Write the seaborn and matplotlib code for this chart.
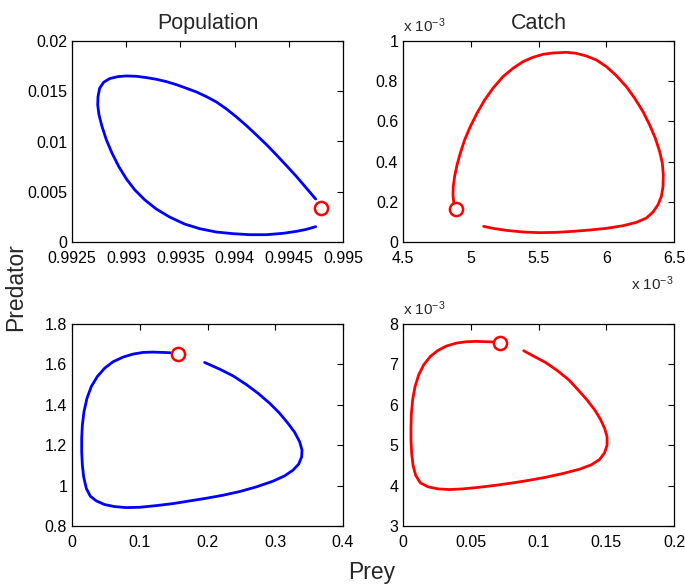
import numpy as np
import pandas as pd
import matplotlib
matplotlib.use("Agg")
import matplotlib.pyplot as plt
from matplotlib.ticker import FuncFormatter, FixedLocator
import seaborn as sns

# ---- Population, top panel (prey vs predator) ----
pop_top_prey = [0.994748, 0.994662, 0.994570, 0.994477, 0.994385, 0.994293, 0.994200,
                0.994108, 0.994016, 0.993924, 0.993831, 0.993739, 0.993647, 0.993555,
                0.993462, 0.993370, 0.993278, 0.993186, 0.993094, 0.993001, 0.992924,
                0.992847, 0.992792, 0.992755, 0.992740, 0.992737, 0.992749, 0.992777,
                0.992817, 0.992869, 0.992931, 0.993001, 0.993078, 0.993170, 0.993278,
                0.993401, 0.993539, 0.993678, 0.993831, 0.993985, 0.994139, 0.994293,
                0.994446, 0.994570, 0.994662, 0.994748]
pop_top_pred = [0.004272, 0.005364, 0.006523, 0.007616, 0.008676, 0.009702, 0.010662,
                0.011590, 0.012450, 0.013245, 0.013941, 0.014470, 0.014934, 0.015298,
                0.015662, 0.015960, 0.016192, 0.016358, 0.016490, 0.016523, 0.016457,
                0.016258, 0.015894, 0.015298, 0.014470, 0.013643, 0.012649, 0.011490,
                0.010166, 0.008841, 0.007517, 0.006291, 0.005199, 0.004205, 0.003278,
                0.002483, 0.001788, 0.001325, 0.000993, 0.000828, 0.000728, 0.000728,
                0.000861, 0.001060, 0.001258, 0.001523]
pop_top_start = (0.994794, 0.003378)

# ---- Catch, top panel (values in units of 1e-3) ----
catch_top_prey_e3 = [4.874, 4.869, 4.871, 4.881, 4.899, 4.923, 4.955, 4.997, 5.046, 5.103,
                     5.164, 5.238, 5.312, 5.386, 5.459, 5.533, 5.607, 5.705, 5.779, 5.853,
                     5.927, 6.001, 6.074, 6.148, 6.210, 6.271, 6.320, 6.362, 6.394, 6.414,
                     6.421, 6.419, 6.407, 6.382, 6.345, 6.296, 6.222, 6.124, 6.001, 5.878,
                     5.755, 5.632, 5.509, 5.386, 5.263, 5.164, 5.095]
catch_top_pred_e3 = [0.1987, 0.2351, 0.2765, 0.3262, 0.3841, 0.4421, 0.5083, 0.5745, 0.6407,
                     0.7070, 0.7649, 0.8228, 0.8642, 0.8974, 0.9189, 0.9338, 0.9404, 0.9437,
                     0.9387, 0.9255, 0.9056, 0.8725, 0.8278, 0.7732, 0.7152, 0.6490, 0.5828,
                     0.5166, 0.4503, 0.3924, 0.3344, 0.2765, 0.2268, 0.1854, 0.1490, 0.1192,
                     0.0977, 0.0811, 0.0679, 0.0596, 0.0530, 0.0480, 0.0464, 0.0497, 0.0579,
                     0.0679, 0.0778]
catch_top_start_e3 = (4.894, 0.1656)

# ---- Population, bottom panel ----
pop_bot_prey = [0.1451, 0.1343, 0.1196, 0.1048, 0.0900, 0.0753, 0.0605, 0.0482, 0.0374,
                0.0285, 0.0221, 0.0177, 0.0153, 0.0143, 0.0143, 0.0153, 0.0172, 0.0212,
                0.0271, 0.0359, 0.0482, 0.0630, 0.0802, 0.0999, 0.1245, 0.1491, 0.1737,
                0.1983, 0.2229, 0.2475, 0.2721, 0.2967, 0.3139, 0.3262, 0.3346, 0.3390,
                0.3395, 0.3360, 0.3287, 0.3188, 0.3065, 0.2918, 0.2745, 0.2573, 0.2376,
                0.2180, 0.1958]
pop_bot_pred = [1.6576, 1.6593, 1.6609, 1.6593, 1.6510, 1.6361, 1.6129, 1.5814, 1.5401,
                1.4904, 1.4324, 1.3662, 1.3000, 1.2338, 1.1675, 1.1013, 1.0434, 0.9854,
                0.9473, 0.9242, 0.9060, 0.8960, 0.8911, 0.8927, 0.9010, 0.9109, 0.9242,
                0.9374, 0.9523, 0.9705, 0.9937, 1.0219, 1.0483, 1.0765, 1.1063, 1.1427,
                1.1758, 1.2172, 1.2636, 1.3083, 1.3580, 1.4076, 1.4573, 1.5003, 1.5434,
                1.5765, 1.6096]
pop_bot_start = (0.1565, 1.6493)

# ---- Catch, bottom panel (predator in units of 1e-3) ----
catch_bot_prey = [0.0681, 0.0615, 0.0541, 0.0467, 0.0394, 0.0320, 0.0258, 0.0202, 0.0153,
                  0.0116, 0.0089, 0.0071, 0.0062, 0.0059, 0.0059, 0.0064, 0.0074, 0.0093,
                  0.0128, 0.0185, 0.0258, 0.0344, 0.0443, 0.0566, 0.0689, 0.0812, 0.0935,
                  0.1058, 0.1181, 0.1304, 0.1390, 0.1451, 0.1488, 0.1506, 0.1506, 0.1488,
                  0.1456, 0.1415, 0.1358, 0.1292, 0.1224, 0.1138, 0.1052, 0.0959, 0.0891]
catch_bot_pred_e3 = [7.553, 7.561, 7.570, 7.561, 7.528, 7.454, 7.346, 7.197, 6.990, 6.742,
                     6.452, 6.121, 5.790, 5.459, 5.127, 4.796, 4.507, 4.258, 4.068, 3.969,
                     3.919, 3.902, 3.919, 3.960, 4.010, 4.068, 4.134, 4.209, 4.300, 4.407,
                     4.515, 4.647, 4.813, 5.003, 5.210, 5.417, 5.649, 5.872, 6.121, 6.369,
                     6.617, 6.849, 7.048, 7.213, 7.338]
catch_bot_start = (0.0716, 7.520)

SCALE = 1e-3

sns.set_theme(style="white")
plt.rcParams["font.family"] = ["Liberation Sans", "DejaVu Sans"]
plt.rcParams["mathtext.fontset"] = "custom"
plt.rcParams["mathtext.rm"] = "Liberation Sans"
plt.rcParams["mathtext.it"] = "Liberation Sans"

fig = plt.figure(figsize=(6.85, 5.86), dpi=100)
W, H = 685.0, 586.0


def make_axes(left, top, right, bottom):
    return fig.add_axes([left / W, 1 - bottom / H, (right - left) / W, (bottom - top) / H])


ax_tl = make_axes(72, 41, 343, 242)
ax_tr = make_axes(403, 41, 674, 242)
ax_bl = make_axes(72, 324, 343, 526)
ax_br = make_axes(403, 324, 674, 526)

BLUE = (0, 0, 1)
RED = (1, 0, 0)
TICK_FS = 11.5


def draw(ax, xs, ys, start, color):
    df = pd.DataFrame({"prey": xs, "predator": ys})
    sns.lineplot(data=df, x="prey", y="predator", sort=False, estimator=None,
                 color=color, linewidth=2.0, ax=ax)
    sdf = pd.DataFrame({"prey": [start[0]], "predator": [start[1]]})
    sns.scatterplot(data=sdf, x="prey", y="predator", s=90, facecolor="white",
                    edgecolor=RED, linewidth=1.8, zorder=5, ax=ax)
    ax.set_xlabel("")
    ax.set_ylabel("")


def style(ax, xlim, ylim, xticks, yticks, xscale=1.0, yscale=1.0):
    ax.set_xlim(*xlim)
    ax.set_ylim(*ylim)
    ax.xaxis.set_major_locator(FixedLocator(xticks))
    ax.yaxis.set_major_locator(FixedLocator(yticks))
    ax.xaxis.set_major_formatter(FuncFormatter(lambda v, p: f"{round(v / xscale, 6):g}"))
    ax.yaxis.set_major_formatter(FuncFormatter(lambda v, p: f"{round(v / yscale, 6):g}"))
    ax.tick_params(direction="in", length=4, width=0.8, top=True, right=True,
                   labelsize=TICK_FS, colors="black")
    ax.tick_params(axis="x", pad=6.5)
    ax.tick_params(axis="y", pad=3.5)
    for sp in ax.spines.values():
        sp.set_visible(True)
        sp.set_color("black")
        sp.set_linewidth(0.9)
    ax.set_facecolor("white")


# top-left: population
draw(ax_tl, pop_top_prey, pop_top_pred, pop_top_start, BLUE)
style(ax_tl, (0.9925, 0.995), (0, 0.02),
      [0.9925, 0.993, 0.9935, 0.994, 0.9945, 0.995], [0, 0.005, 0.01, 0.015, 0.02])
ax_tl.set_title("Population", fontsize=15.5, pad=8.5)

# top-right: catch
ct_x = [v * SCALE for v in catch_top_prey_e3]
ct_y = [v * SCALE for v in catch_top_pred_e3]
draw(ax_tr, ct_x, ct_y, (catch_top_start_e3[0] * SCALE, catch_top_start_e3[1] * SCALE), RED)
style(ax_tr, (4.5e-3, 6.5e-3), (0, 1e-3),
      [4.5e-3, 5e-3, 5.5e-3, 6e-3, 6.5e-3], [0, 0.2e-3, 0.4e-3, 0.6e-3, 0.8e-3, 1e-3],
      xscale=SCALE, yscale=SCALE)
ax_tr.set_title("Catch", fontsize=15.5, pad=8.5)
ax_tr.text(0.0, 1.03, r"x 10$^{-3}$", transform=ax_tr.transAxes, ha="left",
           va="bottom", fontsize=11)
ax_tr.text(1.0, -0.16, r"x 10$^{-3}$", transform=ax_tr.transAxes, ha="right",
           va="top", fontsize=11)

# bottom-left: population
draw(ax_bl, pop_bot_prey, pop_bot_pred, pop_bot_start, BLUE)
style(ax_bl, (0, 0.4), (0.8, 1.8), [0, 0.1, 0.2, 0.3, 0.4], [0.8, 1, 1.2, 1.4, 1.6, 1.8])

# bottom-right: catch
cb_y = [v * SCALE for v in catch_bot_pred_e3]
draw(ax_br, catch_bot_prey, cb_y, (catch_bot_start[0], catch_bot_start[1] * SCALE), RED)
style(ax_br, (0, 0.2), (3e-3, 8e-3), [0, 0.05, 0.1, 0.15, 0.2],
      [3e-3, 4e-3, 5e-3, 6e-3, 7e-3, 8e-3], yscale=SCALE)
ax_br.text(0.0, 1.03, r"x 10$^{-3}$", transform=ax_br.transAxes, ha="left",
           va="bottom", fontsize=11)

fig.text(16 / W, 1 - 287 / H, "Predator", rotation=90, ha="center", va="center", fontsize=16.5)
fig.text(372 / W, 1 - 572 / H, "Prey", ha="center", va="center", fontsize=16.5)

fig.savefig("out.png", dpi=100, facecolor="white")
